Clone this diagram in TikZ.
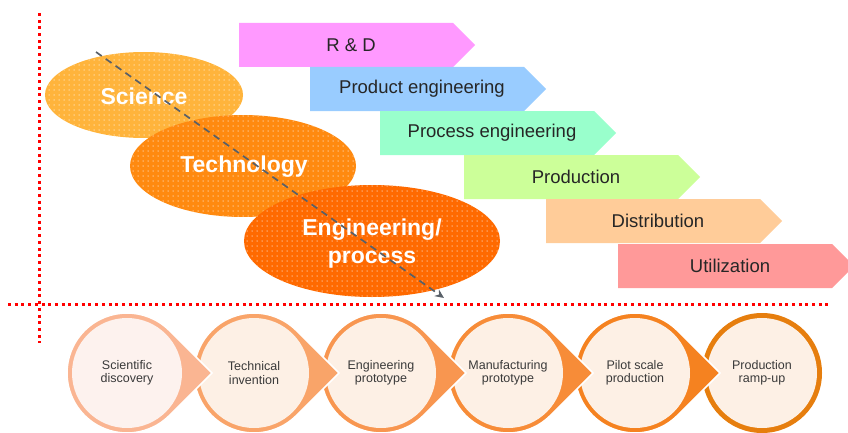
\documentclass[tikz,border=0pt]{standalone}
\usepackage{fontspec}
\setmainfont{Liberation Sans}
\usetikzlibrary{arrows.meta}
\definecolor{rdpink}{HTML}{FF99FF}
\definecolor{pebl}{HTML}{99CCFF}
\definecolor{prmint}{HTML}{99FFCC}
\definecolor{prodgr}{HTML}{CCFF99}
\definecolor{distpe}{HTML}{FFCC99}
\definecolor{utilsa}{HTML}{FF9999}
\definecolor{scicol}{HTML}{FFB43C}
\definecolor{teccol}{HTML}{FF8A10}
\definecolor{engcol}{HTML}{FF6A00}
\definecolor{dashgray}{HTML}{596068}
\definecolor{ringa}{HTML}{FAB592}
\definecolor{ringb}{HTML}{F9A469}
\definecolor{ringc}{HTML}{F89650}
\definecolor{ringd}{HTML}{F78C38}
\definecolor{ringe}{HTML}{F58220}
\definecolor{ringf}{HTML}{E67E0E}
\definecolor{innera}{HTML}{FDF2EE}
\definecolor{innerb}{HTML}{FDF0E5}
\definecolor{txtdark}{HTML}{262626}
\definecolor{circtxt}{HTML}{3A3A3A}
\tikzset{
  arrowtext/.style={text=txtdark, font=\fontsize{18.5}{22}\selectfont, inner sep=0pt},
  elltext/.style={text=white, font=\bfseries\fontsize{23}{28}\selectfont, align=center, inner sep=0pt},
  circtext/.style={text=circtxt, font=\fontsize{12.5}{13.5}\selectfont, align=center, inner sep=0pt},
  reddots/.style={draw=red, line width=3pt, dash pattern=on 3pt off 3.7pt},
  flowline/.style={draw=dashgray, line width=1.7pt, dash pattern=on 7pt off 5pt, -{Stealth[length=9pt,width=8pt]}}
}
\newcommand\stagearrow[5]{%
  \fill[#4] (#2,#3) -- ++(214,0) -- ++(22,-22) -- ++(-22,-22) -- ++(-214,0) -- cycle;
  \node[arrowtext] (#1) at ({#2+112},{#3-22}) {#5};}
\newcommand\stagecircle[5]{%
  \filldraw[fill=#3, draw=white, line width=1.5pt] ({#2+85},59) -- ({#2+60*cos(45.1)},{59+60*sin(45.1)}) arc[start angle=45.1, end angle=314.9, radius=60pt] -- cycle;
  \fill[#4] (#2,59) circle[radius=55pt];
  \node[circtext] (#1) at (#2,59) {#5};}
% dotted ellipse: centre x, centre y, x radius, y radius, colour
\newcommand\dotellipse[5]{%
  \fill[#5] (#1,#2) ellipse[x radius=#3pt, y radius=#4pt];
  \begin{scope}
    \clip (#1,#2) ellipse[x radius=#3pt, y radius=#4pt];
    \foreach \ix in {-27,...,27}{
      \foreach \iy in {-12,...,12}{
        \fill[white!55!#5] ({#1+5*\ix},{#2+5*\iy}) circle[radius=0.75pt];
      }
    }
  \end{scope}}
\begin{document}
\begin{tikzpicture}[x=1pt,y=1pt]
\useasboundingbox (0,0) rectangle (848,432);
% red dotted axes
\coordinate (vtop) at (39,419);
\coordinate (vbot) at (39,89);
\coordinate (hleft) at (8,128);
\coordinate (hright) at (830,128);
\draw[reddots] (vtop) -- (vbot);
\draw[reddots] (hleft) -- (hright);
% stage arrows
\stagearrow{rd}{239}{409}{rdpink}{R \& D}
\stagearrow{pe}{310}{365}{pebl}{Product engineering}
\stagearrow{proc}{380}{321}{prmint}{Process engineering}
\stagearrow{prod}{464}{277}{prodgr}{Production}
\stagearrow{dist}{546}{233}{distpe}{Distribution}
\stagearrow{util}{618}{188}{utilsa}{Utilization}
% ellipses
\dotellipse{144}{337}{99}{43}{scicol}
\node[elltext] (sci) at (144,336) {Science};
\dotellipse{243}{266}{113}{51}{teccol}
\node[elltext] (tec) at (244,265) {Technology};
\dotellipse{372}{191}{128}{56}{engcol}
\node[elltext] (eng) at (372,188) {Engineering/\\process};
% dashed flow arrow
\coordinate (fstart) at (96,380);
\coordinate (fend) at (444,134);
\draw[flowline] (fstart) -- (fend);
% bottom circles (right to left so each tip lies on the next circle)
\fill[ringf] (762,59) circle[radius=60pt];
\fill[innerb] (762,59) circle[radius=55pt];
\node[circtext] (c6) at (762,59) {Production\\ramp-up};
\stagecircle{c5}{635}{ringe}{innerb}{Pilot scale\\production}
\stagecircle{c4}{508}{ringd}{innerb}{Manufacturing\\prototype}
\stagecircle{c3}{381}{ringc}{innerb}{Engineering\\prototype}
\stagecircle{c2}{254}{ringb}{innerb}{Technical\\invention}
\stagecircle{c1}{127}{ringa}{innera}{Scientific\\discovery}
\end{tikzpicture}
\end{document}
